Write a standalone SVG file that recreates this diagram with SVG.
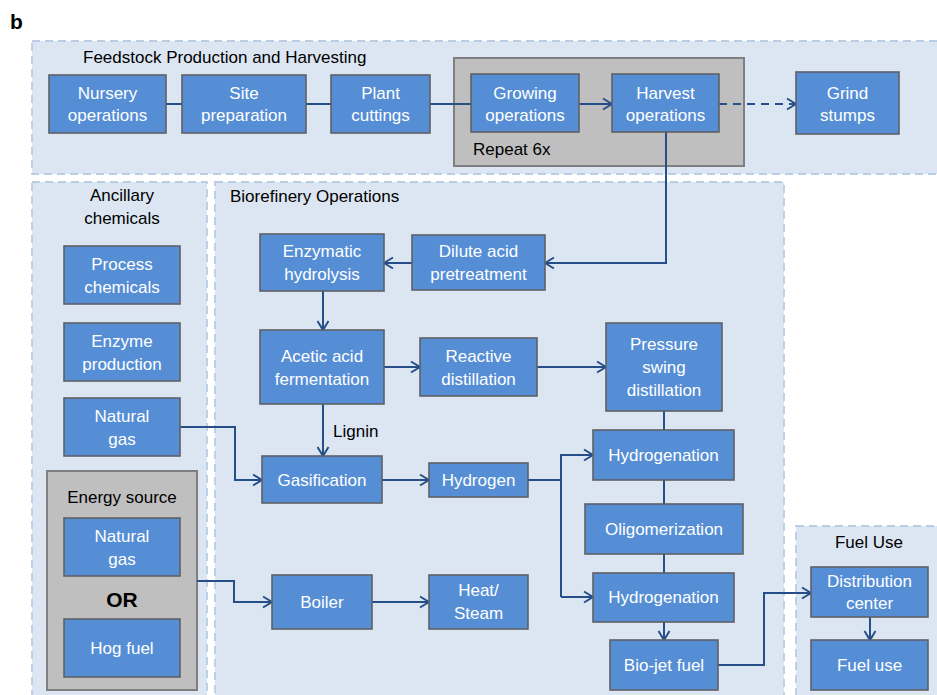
<svg xmlns="http://www.w3.org/2000/svg" width="937" height="695" viewBox="0 0 937 695">
<defs>
<style>
.panel{fill:#dce6f2;stroke:#b9cde5;stroke-width:1.8;stroke-dasharray:8 5}
.gray{fill:#bfbfbf;stroke:#7f7f7f;stroke-width:2}
.box{fill:#558ed5;stroke:#5f6163;stroke-width:1.6}
.bt{font-family:"Liberation Sans",Arial,sans-serif;font-size:17px;fill:#ffffff;text-anchor:middle}
.lt{font-family:"Liberation Sans",Arial,sans-serif;font-size:17px;fill:#000000}
.c{fill:none;stroke:#264f8a;stroke-width:2}
</style>
<marker id="ah" markerUnits="userSpaceOnUse" markerWidth="12" markerHeight="14" viewBox="0 0 12 14" refX="10.5" refY="7" orient="auto">
<path d="M1.5,1.5 L10.5,7 L1.5,12.5" fill="none" stroke="#264f8a" stroke-width="2"/>
</marker>
</defs>
<rect width="937" height="695" fill="#ffffff"/>
<text x="10" y="29" font-family="Liberation Sans,Arial,sans-serif" font-size="21" font-weight="bold" fill="#000">b</text>

<g id="panel-feedstock">
<rect class="panel" x="32" y="41" width="912" height="133"/>
<text class="lt" x="83" y="63">Feedstock Production and Harvesting</text>
</g>
<g id="panel-ancillary">
<rect class="panel" x="32" y="182" width="175" height="525"/>
<text class="lt" x="122" y="201" text-anchor="middle">Ancillary</text>
<text class="lt" x="122" y="224" text-anchor="middle">chemicals</text>
</g>
<g id="panel-biorefinery">
<rect class="panel" x="215" y="182" width="569" height="525"/>
<text class="lt" x="230" y="202">Biorefinery Operations</text>
</g>
<g id="panel-fueluse">
<rect class="panel" x="796" y="526" width="152" height="180"/>
<text class="lt" x="869" y="548" text-anchor="middle">Fuel Use</text>
</g>

<g id="repeat">
<rect class="gray" x="454" y="58" width="290" height="108"/>
<text class="lt" x="473" y="155">Repeat 6x</text>
</g>
<g id="energy-source">
<rect class="gray" x="47" y="471" width="150" height="219"/>
<text class="lt" x="122" y="503" text-anchor="middle">Energy source</text>
<text x="122" y="607" text-anchor="middle" font-family="Liberation Sans,Arial,sans-serif" font-size="21" font-weight="bold" fill="#000">OR</text>
</g>

<g id="connectors">
<path class="c" d="M166,104 H182"/>
<path class="c" d="M306,104 H331"/>
<path class="c" d="M430,104 H471"/>
<path class="c" d="M579,104 H612" marker-end="url(#ah)"/>
<path class="c" d="M719,104 H796" stroke-dasharray="8 6" marker-end="url(#ah)"/>
<path class="c" d="M666,132 V263 H545" marker-end="url(#ah)"/>
<path class="c" d="M412,263 H384" marker-end="url(#ah)"/>
<path class="c" d="M323,291 V330" marker-end="url(#ah)"/>
<path class="c" d="M384,367 H420" marker-end="url(#ah)"/>
<path class="c" d="M537,367 H606" marker-end="url(#ah)"/>
<path class="c" d="M323,404 V456" marker-end="url(#ah)"/>
<path class="c" d="M180,427 H235 V480 H262" marker-end="url(#ah)"/>
<path class="c" d="M197,581 H234 V602 H272" marker-end="url(#ah)"/>
<path class="c" d="M382,480 H429" marker-end="url(#ah)"/>
<path class="c" d="M372,602 H429" marker-end="url(#ah)"/>
<path class="c" d="M528,480 H561"/>
<path class="c" d="M561,597 V455 H593" marker-end="url(#ah)"/>
<path class="c" d="M561,597 H593" marker-end="url(#ah)"/>
<path class="c" d="M664,411 V430"/>
<path class="c" d="M664,480 V504"/>
<path class="c" d="M664,554 V573"/>
<path class="c" d="M664,622 V640" marker-end="url(#ah)"/>
<path class="c" d="M718,665 H764 V593 H811" marker-end="url(#ah)"/>
<path class="c" d="M870,617 V640" marker-end="url(#ah)"/>
</g>

<g id="nursery"><rect class="box" x="49" y="75" width="117" height="58"/><text class="bt" x="107.5" y="99">Nursery</text><text class="bt" x="107.5" y="121">operations</text></g>
<g id="site"><rect class="box" x="182" y="75" width="124" height="58"/><text class="bt" x="244" y="99">Site</text><text class="bt" x="244" y="121">preparation</text></g>
<g id="plant"><rect class="box" x="331" y="75" width="99" height="58"/><text class="bt" x="380.5" y="99">Plant</text><text class="bt" x="380.5" y="121">cuttings</text></g>
<g id="growing"><rect class="box" x="471" y="74" width="108" height="58"/><text class="bt" x="525" y="99">Growing</text><text class="bt" x="525" y="121">operations</text></g>
<g id="harvest"><rect class="box" x="612" y="74" width="107" height="58"/><text class="bt" x="665.5" y="99">Harvest</text><text class="bt" x="665.5" y="121">operations</text></g>
<g id="grind"><rect class="box" x="796" y="72" width="103" height="62"/><text class="bt" x="847.5" y="99">Grind</text><text class="bt" x="847.5" y="121">stumps</text></g>

<g id="process-chemicals"><rect class="box" x="64" y="246" width="116" height="58"/><text class="bt" x="122" y="270">Process</text><text class="bt" x="122" y="293">chemicals</text></g>
<g id="enzyme-production"><rect class="box" x="64" y="323" width="116" height="58"/><text class="bt" x="122" y="347">Enzyme</text><text class="bt" x="122" y="370">production</text></g>
<g id="natural-gas-1"><rect class="box" x="64" y="398" width="116" height="58"/><text class="bt" x="122" y="422">Natural</text><text class="bt" x="122" y="445">gas</text></g>
<g id="natural-gas-2"><rect class="box" x="64" y="518" width="116" height="58"/><text class="bt" x="122" y="542">Natural</text><text class="bt" x="122" y="565">gas</text></g>
<g id="hog-fuel"><rect class="box" x="64" y="619" width="116" height="58"/><text class="bt" x="122" y="654">Hog fuel</text></g>

<g id="enzymatic"><rect class="box" x="260" y="234" width="124" height="57"/><text class="bt" x="322" y="257">Enzymatic</text><text class="bt" x="322" y="280">hydrolysis</text></g>
<g id="dilute"><rect class="box" x="412" y="235" width="133" height="55"/><text class="bt" x="478.5" y="257">Dilute acid</text><text class="bt" x="478.5" y="280">pretreatment</text></g>
<g id="acetic"><rect class="box" x="260" y="330" width="124" height="74"/><text class="bt" x="322" y="362">Acetic acid</text><text class="bt" x="322" y="385">fermentation</text></g>
<g id="reactive"><rect class="box" x="420" y="338" width="117" height="58"/><text class="bt" x="478.5" y="362">Reactive</text><text class="bt" x="478.5" y="385">distillation</text></g>
<g id="pressure"><rect class="box" x="606" y="323" width="116" height="88"/><text class="bt" x="664" y="350">Pressure</text><text class="bt" x="664" y="373">swing</text><text class="bt" x="664" y="396">distillation</text></g>
<text class="lt" x="333" y="437">Lignin</text>
<g id="gasification"><rect class="box" x="262" y="456" width="120" height="47"/><text class="bt" x="322" y="486">Gasification</text></g>
<g id="hydrogen"><rect class="box" x="429" y="463" width="99" height="34"/><text class="bt" x="478.5" y="486">Hydrogen</text></g>
<g id="hydrogenation-1"><rect class="box" x="593" y="430" width="141" height="50"/><text class="bt" x="663.5" y="461">Hydrogenation</text></g>
<g id="oligomerization"><rect class="box" x="585" y="504" width="158" height="50"/><text class="bt" x="664" y="535">Oligomerization</text></g>
<g id="hydrogenation-2"><rect class="box" x="593" y="573" width="141" height="49"/><text class="bt" x="663.5" y="603">Hydrogenation</text></g>
<g id="biojet"><rect class="box" x="610" y="640" width="108" height="50"/><text class="bt" x="664" y="671">Bio-jet fuel</text></g>
<g id="boiler"><rect class="box" x="272" y="575" width="100" height="54"/><text class="bt" x="322" y="608">Boiler</text></g>
<g id="heat-steam"><rect class="box" x="429" y="575" width="99" height="54"/><text class="bt" x="478.5" y="596">Heat/</text><text class="bt" x="478.5" y="619">Steam</text></g>
<g id="distribution"><rect class="box" x="811" y="567" width="117" height="50"/><text class="bt" x="869.5" y="587">Distribution</text><text class="bt" x="869.5" y="609">center</text></g>
<g id="fuel-use"><rect class="box" x="811" y="640" width="117" height="50"/><text class="bt" x="869.5" y="671">Fuel use</text></g>
</svg>
